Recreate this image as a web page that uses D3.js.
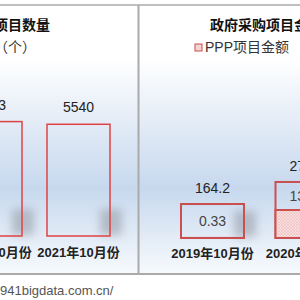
<!doctype html>
<html lang="zh">
<head>
  <meta charset="utf-8">
  <title>PPP项目</title>
  <script src="https://d3js.org/d3.v7.min.js"></script>
  <style>
    body { margin: 0; background: #fff; }
    svg text { font-family: 'Liberation Sans', 'Noto Sans CJK SC', sans-serif; }
  </style>
</head>
<body>
  <div id="chart"></div>
  <script>
    // left panel: project counts
    var leftCategories = ['2020年10月份', '2021年10月份'];
    var leftValues = [5673, 5540];

    // right panel: amounts, total and PPP part
    var rightCategories = ['2019年10月份', '2020年10月份'];
    var rightTotals = [164.2, 270.6];
    var rightPPP = [0.33, 135.2];

    var width = 300, height = 300, barW = 63;

    var svg = d3.select('#chart').append('svg')
        .attr('width', width).attr('height', height);

    var defs = svg.append('defs');
    var grad = defs.append('linearGradient').attr('id', 'bg')
        .attr('x1', 0).attr('y1', 0).attr('x2', 0).attr('y2', 1);
    grad.append('stop').attr('offset', '0%').attr('stop-color', '#ffffff');
    grad.append('stop').attr('offset', '20%').attr('stop-color', '#ffffff');
    grad.append('stop').attr('offset', '68%').attr('stop-color', '#c7d8ee');
    grad.append('stop').attr('offset', '100%').attr('stop-color', '#f7fafd');

    var pat = defs.append('pattern').attr('id', 'hatch')
        .attr('width', 3).attr('height', 3).attr('patternUnits', 'userSpaceOnUse');
    pat.append('rect').attr('width', 3).attr('height', 3).attr('fill', '#f8e0e0');
    pat.append('path').attr('d', 'M0,0L3,3M3,0L0,3')
        .attr('stroke', '#eeb4b4').attr('stroke-width', 0.5);

    defs.append('filter').attr('id', 'blur')
        .attr('x', '-50%').attr('y', '-50%').attr('width', '200%').attr('height', '200%')
        .append('feGaussianBlur').attr('stdDeviation', 4.5);

    svg.append('rect').attr('x', 0).attr('y', 5).attr('width', width).attr('height', 269)
        .attr('fill', 'url(#bg)');

    // frame lines
    svg.append('line').attr('x1', 0).attr('x2', width).attr('y1', 5).attr('y2', 5)
        .attr('stroke', '#aaa').attr('stroke-width', 1.5);
    svg.append('line').attr('x1', 0).attr('x2', width).attr('y1', 274).attr('y2', 274)
        .attr('stroke', '#aaa').attr('stroke-width', 2);
    svg.append('line').attr('x1', 138.5).attr('x2', 138.5).attr('y1', 5).attr('y2', 274)
        .attr('stroke', '#aaa').attr('stroke-width', 2);

    function shadows(g, xs, ys, cats, vals, base) {
      g.selectAll('.shadow').data(cats).enter().append('rect')
          .attr('x', function(d) { return xs(d) + barW / 2 - 10; })
          .attr('y', function(d, i) { return base - Math.min(30, base - ys(vals[i])) + 3; })
          .attr('width', 22)
          .attr('height', function(d, i) { return Math.min(30, base - ys(vals[i])) - 4; })
          .attr('fill', '#8a909a').attr('opacity', 0.5)
          .attr('filter', 'url(#blur)');
    }

    // ---- left panel ----
    var left = svg.append('g');
    var xL = d3.scalePoint().domain(leftCategories).range([-9.5, 78.5]);
    var yL = d3.scaleLinear().domain([0, 6000]).range([236, 115]);

    shadows(left, xL, yL, leftCategories, leftValues, 236);

    left.selectAll('.bar').data(leftCategories).enter().append('rect')
        .attr('x', function(d) { return xL(d) - barW / 2; })
        .attr('y', function(d, i) { return yL(leftValues[i]); })
        .attr('width', barW)
        .attr('height', function(d, i) { return yL(0) - yL(leftValues[i]); })
        .attr('fill', 'none').attr('stroke', '#e04343').attr('stroke-width', 1.5);

    left.selectAll('.val').data(leftCategories).enter().append('text')
        .attr('x', function(d) { return xL(d); })
        .attr('y', function(d, i) { return yL(leftValues[i]) - 17; })
        .attr('text-anchor', 'middle').attr('dominant-baseline', 'central')
        .style('font-size', '14px').attr('fill', '#222')
        .text(function(d, i) { return leftValues[i]; });

    left.selectAll('.cat').data(leftCategories).enter().append('text')
        .attr('x', function(d) { return xL(d); })
        .attr('y', 252)
        .attr('text-anchor', 'middle').attr('dominant-baseline', 'central')
        .style('font-size', '13px').style('font-weight', 'bold').attr('fill', '#222')
        .text(function(d) { return d; });

    left.append('text').attr('x', 50).attr('y', 25)
        .attr('text-anchor', 'end').attr('dominant-baseline', 'central')
        .style('font-size', '14px').style('font-weight', 'bold').attr('fill', '#111')
        .text('PPP项目数量');
    left.append('text').attr('x', 36).attr('y', 47)
        .attr('text-anchor', 'end').attr('dominant-baseline', 'central')
        .style('font-size', '14px').attr('fill', '#333')
        .text('项目数（个）');

    // ---- right panel ----
    var right = svg.append('g');
    var xR = d3.scalePoint().domain(rightCategories).range([212.5, 307]);
    var yR = d3.scaleLinear().domain([0, 300]).range([238, 175.9]);

    shadows(right, xR, yR, rightCategories, rightTotals, 238);

    // total outline
    right.selectAll('.bar').data(rightCategories).enter().append('rect')
        .attr('x', function(d) { return xR(d) - barW / 2; })
        .attr('y', function(d, i) { return yR(rightTotals[i]); })
        .attr('width', barW)
        .attr('height', function(d, i) { return yR(0) - yR(rightTotals[i]); })
        .attr('fill', 'none').attr('stroke', '#c9504f').attr('stroke-width', 2);

    // PPP part, hatched
    right.selectAll('.ppp').data(rightCategories).enter().append('rect')
        .attr('x', function(d) { return xR(d) - barW / 2; })
        .attr('y', function(d, i) { return yR(rightPPP[i]); })
        .attr('width', barW)
        .attr('height', function(d, i) { return yR(0) - yR(rightPPP[i]); })
        .attr('fill', 'url(#hatch)').attr('stroke', '#c9504f').attr('stroke-width', 2);

    right.selectAll('.tot').data(rightCategories).enter().append('text')
        .attr('x', function(d) { return xR(d); })
        .attr('y', function(d, i) { return yR(rightTotals[i]) - 16; })
        .attr('text-anchor', 'middle').attr('dominant-baseline', 'central')
        .style('font-size', '14px').attr('fill', '#222')
        .text(function(d, i) { return rightTotals[i]; });

    right.selectAll('.pv').data(rightCategories).enter().append('text')
        .attr('x', function(d) { return xR(d); })
        .attr('y', function(d, i) { return (yR(rightTotals[i]) + yR(rightPPP[i])) / 2; })
        .attr('text-anchor', 'middle').attr('dominant-baseline', 'central')
        .style('font-size', '14px').attr('fill', '#444')
        .text(function(d, i) { return rightPPP[i]; });

    right.selectAll('.cat').data(rightCategories).enter().append('text')
        .attr('x', function(d) { return xR(d); })
        .attr('y', 253)
        .attr('text-anchor', 'middle').attr('dominant-baseline', 'central')
        .style('font-size', '13px').style('font-weight', 'bold').attr('fill', '#222')
        .text(function(d) { return d; });

    right.append('text').attr('x', 210).attr('y', 25)
        .attr('dominant-baseline', 'central')
        .style('font-size', '14px').style('font-weight', 'bold').attr('fill', '#111')
        .text('政府采购项目金额（亿元）');

    right.append('rect').attr('x', 195).attr('y', 44).attr('width', 7).attr('height', 7)
        .attr('fill', 'url(#hatch)').attr('stroke', '#c9504f').attr('stroke-width', 1);
    right.append('text').attr('x', 205).attr('y', 47)
        .attr('dominant-baseline', 'central')
        .style('font-size', '14px').attr('fill', '#333')
        .text('PPP项目金额');

    // source line
    svg.append('text').attr('x', 0).attr('y', 290)
        .attr('dominant-baseline', 'central')
        .style('font-size', '13px').attr('fill', '#555')
        .text('941bigdata.com.cn/');
  </script>
</body>
</html>
